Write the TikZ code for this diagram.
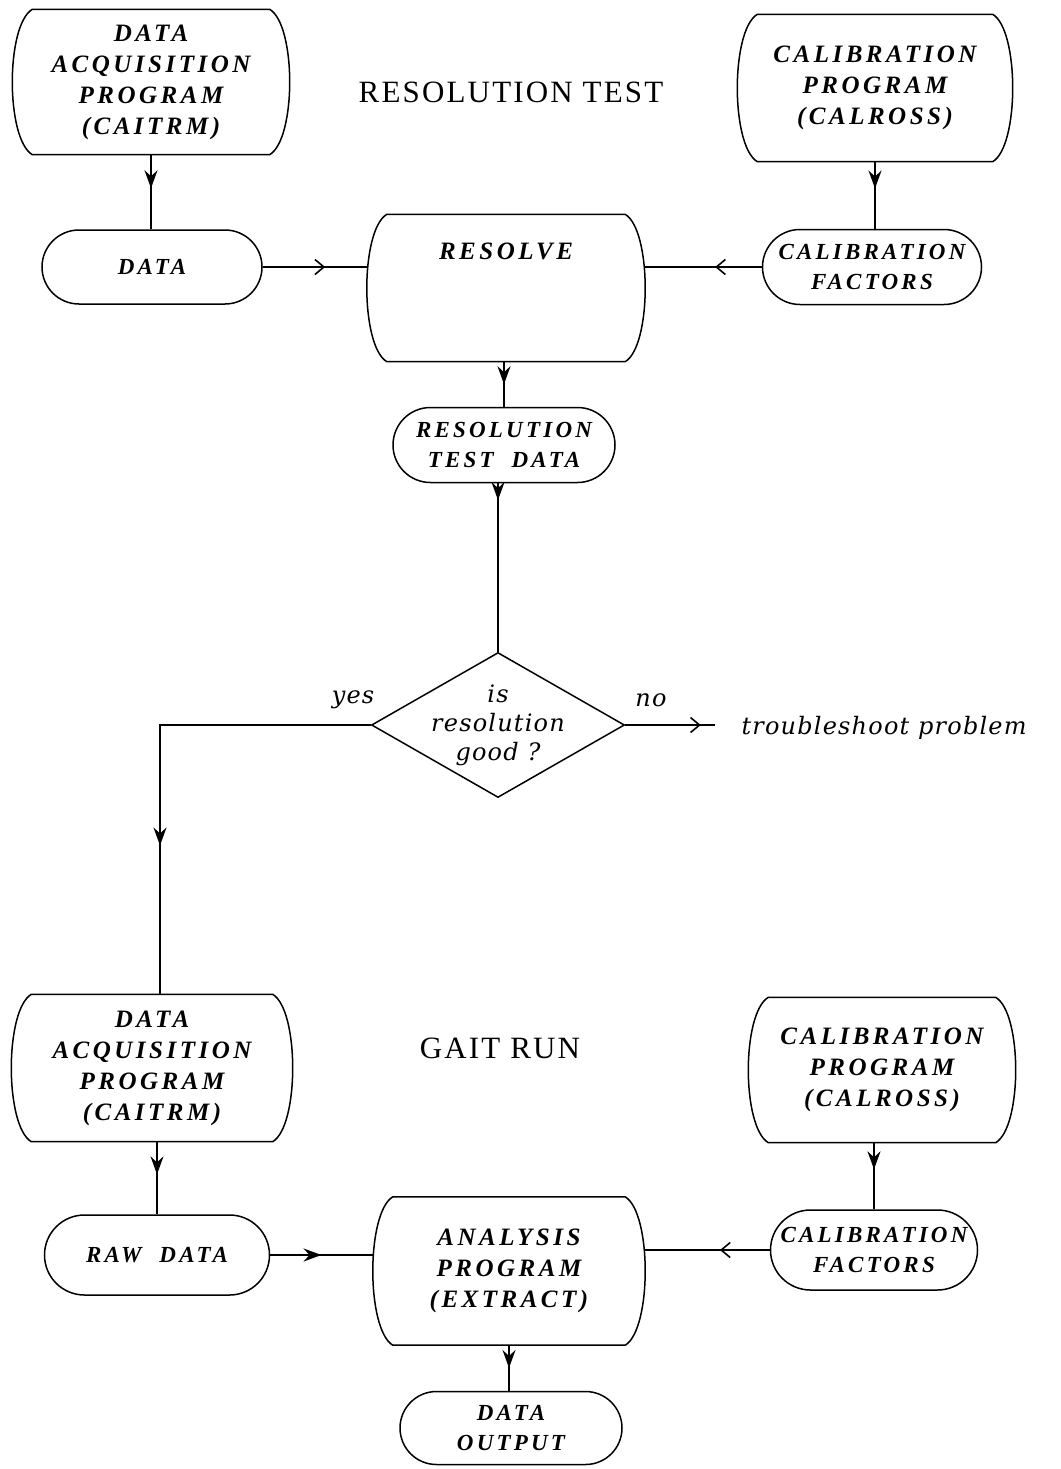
\documentclass[tikz,border=0pt]{standalone}
\usepackage{fontspec}
\setmainfont{Liberation Serif}
\newfontfamily\capfont[LetterSpace=14]{Liberation Serif}
\newfontfamily\lowfont[LetterSpace=5]{DejaVu Serif}
\newfontfamily\titlefont[LetterSpace=7]{Liberation Serif}
\usetikzlibrary{shapes.misc,shapes.geometric,decorations.markings,arrows.meta}
\tikzset{
  ln/.style={line width=1.5pt},
  lbl/.style={font=\capfont\bfseries\itshape\fontsize{25}{31}\selectfont, align=center},
  prog/.style={lbl, draw=none, inner sep=0pt},
  stad/.style={lbl, font=\capfont\bfseries\itshape\fontsize{23}{30}\selectfont, draw, ln, rounded rectangle, inner sep=0pt},
  dia/.style={diamond, draw, ln, inner sep=-50pt, align=center, font=\lowfont\itshape\fontsize{24}{29}\selectfont},
  ttl/.style={font=\titlefont\fontsize{31}{34}\selectfont},
  low/.style={font=\lowfont\itshape\fontsize{24}{28}\selectfont},
  fa/.style={postaction={decorate,decoration={markings,mark=at position #1 with {\arrow{Stealth[length=18pt,width=13pt,inset=6pt]}}}}},
  ba/.style={postaction={decorate,decoration={markings,mark=at position #1 with {\arrow[line width=1.6pt]{Straight Barb[length=9pt,width=15pt]}}}}},
}
\newcommand\progline[1]{%
  \draw[ln] ([xshift=20pt]#1.north west) -- ([xshift=-20pt]#1.north east)
    .. controls ([xshift=6.67pt,yshift=-16pt]#1.north east) and ([xshift=6.67pt,yshift=16pt]#1.south east) .. ([xshift=-20pt]#1.south east)
    -- ([xshift=20pt]#1.south west)
    .. controls ([xshift=-6.67pt,yshift=16pt]#1.south west) and ([xshift=-6.67pt,yshift=-16pt]#1.north west) .. cycle;}
\begin{document}
\begin{tikzpicture}[x=1pt,y=-1pt]
\useasboundingbox[fill=white] (0,0) rectangle (1060,1469);

% titles
\node[ttl] (T1) at (511,92) {RESOLUTION TEST};
\node[ttl] (T2) at (500,1048) {GAIT RUN};

% resolution test part
\node[prog, minimum width=277pt, minimum height=145pt] (P1) at (151,82)
  {DATA\\ACQUISITION\\PROGRAM\\(CAITRM)};
\node[prog, minimum width=275pt, minimum height=147pt] (C1) at (875,88)
  {CALIBRATION\\PROGRAM\\(CALROSS)};
\node[prog, minimum width=278pt, minimum height=147pt] (R) at (506,288)
  {RESOLVE\\[42pt]\mbox{}};
\node[stad, minimum width=220pt, minimum height=74pt] (D1) at (152,267) {DATA};
\node[stad, minimum width=219pt, minimum height=75pt] (F1) at (872,267) {CALIBRATION\\FACTORS};
\node[stad, minimum width=222pt, minimum height=75pt] (RTD) at (504,445) {RESOLUTION\\TEST\ \ DATA};
\node[dia, minimum width=253pt, minimum height=145pt] (Q) at (498,725) {is\\resolution\\good ?};
\node[low] (YES) at (353,700) {yes};
\node[low] (NO) at (651,700) {no};
\node[low, anchor=west] (TS) at (738,728) {troubleshoot problem};

% gait run part
\node[prog, minimum width=281pt, minimum height=147pt] (P2) at (152,1068)
  {DATA\\ACQUISITION\\PROGRAM\\(CAITRM)};
\node[prog, minimum width=267pt, minimum height=145pt] (C2) at (882,1070)
  {CALIBRATION\\PROGRAM\\(CALROSS)};
\node[prog, minimum width=272pt, minimum height=148pt] (A) at (509,1271)
  {ANALYSIS\\PROGRAM\\(EXTRACT)};
\node[stad, minimum width=225pt, minimum height=80pt] (RD) at (157,1255) {RAW\ \ DATA};
\node[stad, minimum width=207pt, minimum height=80pt] (F2) at (874,1250) {CALIBRATION\\FACTORS};
\node[stad, minimum width=222pt, minimum height=73pt] (DO) at (511,1428) {DATA\\OUTPUT};

\progline{P1}
\progline{C1}
\progline{R}
\progline{P2}
\progline{C2}
\progline{A}

% connectors
\draw[ln,fa=0.45] (P1.south) -- (P1.south |- D1.north);
\draw[ln,ba=0.6] (D1.east) -- (D1.east -| R.west);
\draw[ln,fa=0.4] (C1.south) -- (C1.south |- F1.north);
\draw[ln,ba=0.4] (F1.west) -- (F1.west -| R.east);
\draw[ln,fa=0.5] (R.south -| RTD.north) -- (RTD.north);
\draw[ln,fa=0.1] (Q.north |- RTD.south) -- (Q.north);
\coordinate (yc) at (160,725);
\draw[ln,fa=0.69] (Q.west) -- (yc) -- (yc |- P2.north);
\draw[ln,ba=0.67,shorten >=23pt] (Q.east) -- (Q.east -| TS.west);

\draw[ln,fa=0.45] (RD.north |- P2.south) -- (RD.north);
\draw[ln,fa=0.5] (RD.east) -- (RD.east -| A.west);
\draw[ln,fa=0.4] (F2.north |- C2.south) -- (F2.north);
\draw[ln,ba=0.4] (F2.west) -- (F2.west -| A.east);
\draw[ln,fa=0.5] (A.south) -- (A.south |- DO.north);
\end{tikzpicture}
\end{document}
